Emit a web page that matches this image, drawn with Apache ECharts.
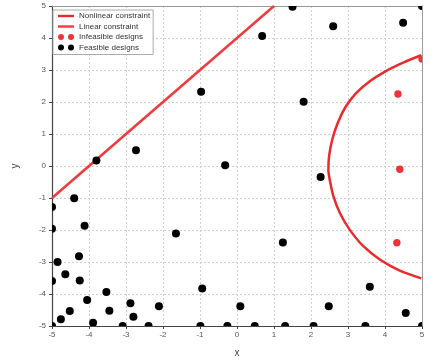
<!DOCTYPE html>
<html>
<head>
<meta charset="utf-8">
<script src="https://cdn.jsdelivr.net/npm/echarts@6/dist/echarts.min.js"></script>
<style>
html,body{margin:0;padding:0;background:#fff;}
#chart{width:442px;height:363px;}
</style>
</head>
<body>
<div id="chart"></div>
<script>
var ticks = [-5, -4, -3, -2, -1, 0, 1, 2, 3, 4, 5];

var feasibleX = [-2.73, -3.80, -0.32, -4.40, -5.00, -5.00, -4.12, -1.65, -4.85, -4.27, -4.64, -5.00, -4.25, -0.94, -3.53, -4.05, 0.09, -2.88, -2.11, -4.52, -3.45, -2.80, -4.76, -3.89, -5.00, -3.09, -2.39, -0.99, -0.26, 0.48, 1.30, 2.07, 3.47, 5.00, 1.50, 0.68, 2.60, 4.49, 5.00, 1.80, 2.26, 1.24, 3.59, 2.48, 4.56, -0.97];
var feasibleY = [0.49, 0.17, 0.02, -1.01, -1.28, -1.96, -1.87, -2.11, -3.00, -2.82, -3.38, -3.59, -3.58, -3.83, -3.94, -4.19, -4.38, -4.29, -4.38, -4.53, -4.52, -4.71, -4.79, -4.90, -5.00, -5.00, -5.00, -5.00, -5.00, -5.00, -5.00, -5.00, -5.00, -5.00, 4.98, 4.06, 4.37, 4.48, 5.00, 2.01, -0.34, -2.39, -3.77, -4.38, -4.59, 2.32];

var infeasibleX = [5.00, 4.35, 4.40, 4.32];
var infeasibleY = [3.34, 2.25, -0.10, -2.40];

var curveX = [4.98, 4.49, 4.00, 3.58, 3.22, 2.94, 2.73, 2.58, 2.49, 2.47, 2.51, 2.61, 2.78, 3.04, 3.40, 3.86, 4.40, 4.98];
var curveY = [3.46, 3.23, 2.95, 2.64, 2.28, 1.86, 1.37, 0.85, 0.32, -0.12, -0.45, -0.96, -1.47, -1.98, -2.49, -2.92, -3.27, -3.51];

var linearX = [-5, 1];
var linearY = [-1, 5];

function zip(a, b) { return a.map(function (v, i) { return [v, b[i]]; }); }

var FONT = 'Liberation Sans';
var dotsIcon = 'path://M0,3a3,3 0 1,0 6,0a3,3 0 1,0 -6,0zM10,3a3,3 0 1,0 6,0a3,3 0 1,0 -6,0z';
var lineIcon = 'path://M0,0h16v2.4h-16z';

function makeRender(r) {
  return function (params, api) {
    var p = api.coord([api.value(0), api.value(1)]);
    return { type: 'circle', shape: { cx: p[0], cy: p[1], r: r }, style: { fill: api.visual('color') } };
  };
}

var baseAxis = function (pos, name) {
  return {
    type: 'value', min: -5, max: 5, interval: 1, position: pos,
    name: name, nameLocation: 'middle',
    nameTextStyle: { fontFamily: FONT, fontSize: 10, color: '#444' },
    axisLine: { onZero: false, lineStyle: { color: '#444', width: 1.2 } },
    axisTick: { show: true, length: 3, lineStyle: { color: '#444' } },
    axisLabel: { fontFamily: FONT, fontSize: 8, color: '#555', showMinLabel: true, showMaxLabel: true,
      formatter: function (v) { return ticks.indexOf(v) >= 0 ? String(v) : ''; } },
    splitLine: { show: true, lineStyle: { color: '#cfcfcf', type: [2, 2], width: 1 } }
  };
};

var xMain = baseAxis('bottom', 'x');
xMain.nameGap = 22; xMain.axisLabel.margin = 5;
var yMain = baseAxis('left', 'y');
yMain.nameGap = 32; yMain.axisLabel.margin = 6;

var frameAxis = function (pos) {
  return {
    type: 'value', min: -5, max: 5, interval: 1, position: pos,
    axisLine: { show: true, onZero: false, lineStyle: { color: '#999', width: 1 } },
    axisTick: { show: false }, axisLabel: { show: false }, splitLine: { show: false }
  };
};

var chart = echarts.init(document.getElementById('chart'), null, { renderer: 'canvas' });
chart.setOption({
  animation: false,
  backgroundColor: '#fff',
  grid: { left: 52, right: 20, top: 6, bottom: 36 },
  xAxis: [xMain, frameAxis('top')],
  yAxis: [yMain, frameAxis('right')],
  legend: {
    orient: 'vertical', left: 53, top: 10,
    itemWidth: 16, itemHeight: 6, itemGap: 2.5, itemTextGap: 4,
    padding: [2, 3, 3, 5],
    backgroundColor: '#fff', borderColor: '#aaa', borderWidth: 1,
    textStyle: { fontFamily: FONT, fontSize: 8, color: '#333' },
    data: [
      { name: 'Nonlinear constraint', icon: lineIcon },
      { name: 'Linear constraint', icon: lineIcon },
      { name: 'Infeasible designs', icon: dotsIcon },
      { name: 'Feasible designs', icon: dotsIcon }
    ]
  },
  series: [
    {
      name: 'Nonlinear constraint', type: 'line', data: zip(curveX, curveY),
      symbol: 'none', smooth: 0.3, clip: true,
      lineStyle: { color: '#ea2a2d', width: 2.5 }, itemStyle: { color: '#ea2a2d' }, z: 3
    },
    {
      name: 'Linear constraint', type: 'line', data: zip(linearX, linearY),
      symbol: 'none', clip: true,
      lineStyle: { color: '#ee3b3d', width: 2.5 }, itemStyle: { color: '#ee3b3d' }, z: 3
    },
    {
      name: 'Infeasible designs', type: 'custom', data: zip(infeasibleX, infeasibleY),
      renderItem: makeRender(3.7), clip: true, itemStyle: { color: '#ee3337' }, z: 4
    },
    {
      name: 'Feasible designs', type: 'custom', data: zip(feasibleX, feasibleY),
      renderItem: makeRender(4), clip: true, itemStyle: { color: '#000' }, z: 4
    }
  ]
});
</script>
</body>
</html>
